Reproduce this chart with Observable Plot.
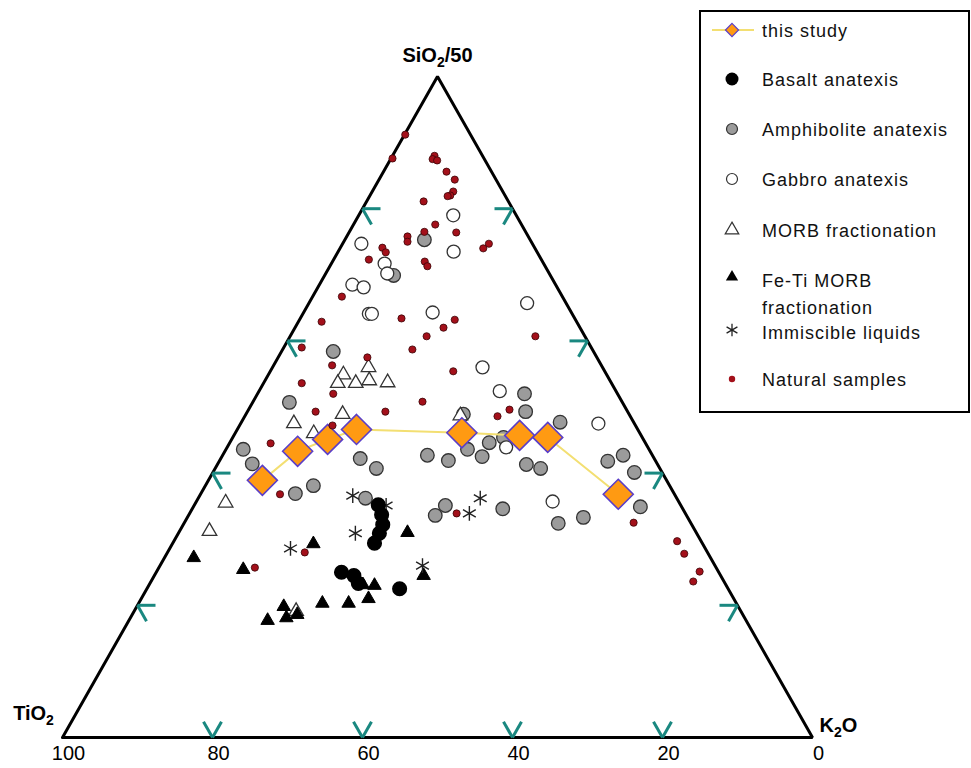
<!DOCTYPE html>
<html><head><meta charset="utf-8">
<script src="https://cdn.jsdelivr.net/npm/d3@7"></script>
<script src="https://cdn.jsdelivr.net/npm/@observablehq/plot@0.6"></script>
<style>
body{margin:0;background:#fff;}
#chart{position:relative;width:971px;height:768px;}
svg text{font-family:"Liberation Sans",Arial,Helvetica,sans-serif;}
</style></head><body><div id="chart"></div>
<script>
// Compositions as [TiO2, SiO2/50, K2O], normalised to 100
const thisStudy = [[53.9,38.9,7.2],[47.0,43.3,9.7],[42.1,45.1,12.8],[37.5,46.6,15.9],[23.7,46.1,30.2],[16.2,45.7,38.1],[12.6,45.4,42.0],[7.5,36.8,55.7]];
const basaltAnatexis = [[40.3,35.2,24.5],[40.6,33.7,25.7],[41.2,32.2,26.6],[42.3,30.9,26.8],[43.7,29.4,26.9],[50.3,25.0,24.7],[48.9,24.5,26.6],[48.9,23.3,27.8],[43.8,22.5,33.7]];
const amphiboliteAnatexis = [[14.1,75.3,10.6],[20.9,69.9,9.2],[34.7,58.4,6.9],[44.4,50.7,4.9],[54.1,43.6,2.3],[54.0,41.4,4.6],[50.5,36.9,12.6],[47.5,38.1,14.4],[39.2,42.2,18.6],[37.8,40.7,21.5],[41.5,36.2,22.3],[30.0,42.7,27.3],[27.6,41.9,30.5],[22.1,48.9,29.0],[24.2,43.6,32.2],[22.8,42.5,34.7],[20.8,44.6,34.6],[18.5,45.4,36.1],[33.5,33.6,32.9],[31.4,35.1,33.5],[24.0,34.6,41.4],[12.4,52.0,35.6],[13.6,49.3,37.1],[9.8,47.7,42.5],[17.5,41.3,41.2],[15.9,40.7,43.4],[6.4,41.8,51.8],[3.9,42.7,53.4],[3.7,40.1,56.2],[5.5,34.9,59.6],[17.7,32.4,49.9],[13.9,33.3,52.8]];
const gabbroAnatexis = [[22.8,74.7,2.5],[8.4,79.0,12.6],[11.1,73.5,15.4],[21.2,71.7,7.1],[21.6,70.2,8.2],[27.1,68.5,4.4],[25.8,68.1,6.1],[27.1,64.1,8.8],[26.7,64.1,9.2],[18.5,64.3,17.2],[5.2,65.7,29.1],[16.0,56.0,28.0],[15.5,52.4,32.1],[4.8,47.5,47.7],[18.9,43.9,37.2],[16.8,35.7,47.5]];
const morbFractionation = [[35.1,54.9,10.0],[31.2,56.0,12.8],[36.5,53.6,9.9],[34.1,53.6,12.3],[32.1,54.0,13.9],[29.8,53.7,16.5],[38.2,48.9,12.9],[45.4,47.5,7.1],[43.5,46.0,10.5],[22.6,48.7,28.7],[60.5,35.5,4.0],[64.8,31.2,4.0],[59.3,19.1,21.6]];
const feTiMorbFractionation = [[38.5,31.0,30.5],[51.9,29.3,18.8],[68.9,27.2,3.9],[63.2,25.4,11.4],[48.4,23.1,28.5],[46.9,23.0,30.1],[39.6,24.5,35.9],[60.6,19.8,19.6],[63.8,17.7,18.5],[61.1,18.1,20.8],[59.4,18.6,22.0],[55.2,20.3,24.5],[51.7,20.3,28.0],[48.7,21.0,30.3]];
const immiscibleLiquids = [[43.0,36.6,20.4],[39.3,35.1,25.6],[45.5,30.9,23.6],[55.3,28.6,16.1],[39.0,26.0,35.0],[26.2,36.2,37.6],[28.8,33.9,37.3]];
const naturalSamples = [[8.7,91.2,0.1],[12.2,87.6,0.2],[6.4,88.0,5.6],[6.9,87.5,5.6],[6.4,87.3,6.3],[6.0,85.6,8.4],[5.5,84.4,10.1],[6.6,82.6,10.8],[7.3,82.0,10.7],[7.7,81.9,10.4],[11.3,81.1,7.6],[11.5,77.6,10.9],[13.5,76.5,10.0],[9.3,76.4,14.3],[16.1,75.8,8.1],[16.5,75.0,8.5],[20.3,74.1,5.6],[20.2,73.4,6.4],[23.0,72.3,4.7],[5.8,74.7,19.5],[6.9,74.0,19.1],[15.7,72.0,12.3],[15.7,71.3,13.0],[29.4,66.7,3.9],[34.0,62.9,3.1],[23.1,63.4,13.5],[18.2,62.0,19.8],[16.1,63.2,20.7],[21.1,60.7,18.2],[24.0,58.7,17.3],[38.6,59.0,2.4],[30.6,57.5,11.9],[35.9,56.3,7.8],[20.2,55.4,24.4],[41.3,53.6,5.1],[37.9,52.0,10.1],[26.6,50.8,22.6],[41.6,49.3,9.1],[32.3,49.3,18.4],[50.0,44.5,5.5],[40.4,47.2,12.4],[17.7,48.6,33.7],[15.6,49.6,34.8],[6.6,60.7,32.7],[52.6,36.8,10.6],[53.7,28.0,18.3],[61.5,25.7,12.8],[30.5,33.9,35.6],[7.6,32.5,59.9],[3.2,29.7,67.1],[3.2,27.8,69.0],[2.5,25.1,72.4],[4.1,23.6,72.3]];

const vertexNames = ["TiO2", "SiO2/50", "K2O"];
const vertexComps = [[100,0,0],[0,100,0],[0,0,100]];
const edgeTicks = [20, 40, 60, 80];
const bottomTickLabels = [100, 80, 60, 40, 20, 0];
const legendLabels = ["this study","Basalt anatexis","Amphibolite anatexis","Gabbro anatexis","MORB fractionation","Fe-Ti MORB|fractionation","Immiscible liquids","Natural samples"];

// ternary projection: x = K2O + SiO2/2, y = SiO2
const px = d => d[2] + d[1] / 2;
const py = d => d[1];

const tl = 2.4; // tick arm length (composition units)
const tickSegs = [];
for (const v of edgeTicks) {
  const b = [100 - v, 0, v];
  tickSegs.push({a: b, b: [100 - v - tl, tl, v]}, {a: b, b: [100 - v, tl, v - tl]});
  const l = [100 - v, v, 0];
  tickSegs.push({a: l, b: [100 - v - tl, v, tl]}, {a: l, b: [100 - v, v - tl, tl]});
  const r = [0, v, 100 - v];
  tickSegs.push({a: r, b: [tl, v, 100 - v - tl]}, {a: r, b: [tl, v - tl, 100 - v]});
}
const vertices = vertexComps.map((c, i) => ({c, name: vertexNames[i]}));
const outline = [...vertexComps, vertexComps[0]];

const teal = "#1a8880";
const orange = "#FF9A12";
const purple = "#5a3ec8";
const yellow = "#F3DF72";
const red = "#A3101A";

const svg = Plot.plot({
  width: 971, height: 768,
  marginLeft: 62, marginRight: 159, marginTop: 76, marginBottom: 31,
  x: {domain: [0, 100], axis: null},
  y: {domain: [0, 100], axis: null},
  style: {fontFamily: "'Liberation Sans', Arial, sans-serif", background: "white"},
  marks: [
    Plot.line(outline, {x: px, y: py, stroke: "black", strokeWidth: 3, strokeLinejoin: "miter"}),
    Plot.link(tickSegs, {x1: d => px(d.a), y1: d => py(d.a), x2: d => px(d.b), y2: d => py(d.b), stroke: teal, strokeWidth: 3}),
    Plot.text(bottomTickLabels, {x: v => 100 - v, y: 0, text: v => String(v), lineAnchor: "top", dy: 8, dx: 6, fontSize: 20, fill: "black"}),
    Plot.text(vertices.slice(0,1), {x: d => px(d.c), y: d => py(d.c), text: "name", dx: -29, dy: -24, fontSize: 20, fontWeight: "bold", className: "vlabel"}),
    Plot.text(vertices.slice(1,2), {x: d => px(d.c), y: d => py(d.c), text: "name", dy: -21, fontSize: 20, fontWeight: "bold", className: "vlabel"}),
    Plot.text(vertices.slice(2,3), {x: d => px(d.c), y: d => py(d.c), text: "name", dx: 26, dy: -12, fontSize: 20, fontWeight: "bold", className: "vlabel"}),
    Plot.dot(amphiboliteAnatexis, {x: px, y: py, r: 6.8, fill: "#9b9b9b", stroke: "#333", strokeWidth: 1.3}),
    Plot.dot(gabbroAnatexis, {x: px, y: py, r: 6.5, fill: "white", stroke: "#333", strokeWidth: 1.3}),
    Plot.dot(morbFractionation, {x: px, y: py, r: 5.4, symbol: "triangle", fill: "white", stroke: "#333", strokeWidth: 1.3}),
    Plot.dot(feTiMorbFractionation, {x: px, y: py, r: 5, symbol: "triangle", fill: "black", stroke: "black", strokeWidth: 1}),
    Plot.dot(immiscibleLiquids, {x: px, y: py, r: 7, symbol: "asterisk", stroke: "#222", strokeWidth: 1.4}),
    Plot.dot(basaltAnatexis, {x: px, y: py, r: 6.8, fill: "black", stroke: "black"}),
    Plot.line(thisStudy, {x: px, y: py, stroke: yellow, strokeWidth: 2}),
    Plot.dot(thisStudy, {x: px, y: py, r: 13.5, symbol: "diamond2", fill: orange, stroke: purple, strokeWidth: 1.6}),
    Plot.dot(naturalSamples, {x: px, y: py, r: 3.6, fill: red, stroke: "#3a0508", strokeWidth: 0.8})
  ]
});

// subscript digits in the vertex labels
d3.select(svg).selectAll(".vlabel text").each(function() {
  const t = d3.select(this);
  const s = t.text();
  t.text(null);
  const m = s.match(/^([A-Za-z]+)(2)(.*)$/);
  t.append("tspan").text(m[1]);
  t.append("tspan").attr("dy", 5).attr("font-size", 14).text(m[2]);
  t.append("tspan").attr("dy", -5).text(m[3]);
});

// legend
const g = d3.select(svg).append("g").attr("class", "legend").attr("text-anchor", "start");
g.append("rect").attr("x", 700).attr("y", 11).attr("width", 269).attr("height", 401)
  .attr("fill", "white").attr("stroke", "black").attr("stroke-width", 2);
const sx = 732, tx = 762;
const rows = [30, 79, 129, 179, 230, 280, 332, 379];
const sym = (type, size) => d3.symbol(type, size)();
g.append("line").attr("x1", 712).attr("x2", 754).attr("y1", rows[0]).attr("y2", rows[0]).attr("stroke", yellow).attr("stroke-width", 2);
g.append("path").attr("d", sym(d3.symbolDiamond2, 110)).attr("transform", `translate(${sx},${rows[0]})`).attr("fill", orange).attr("stroke", purple).attr("stroke-width", 1.2);
g.append("circle").attr("cx", sx).attr("cy", rows[1]).attr("r", 6.5).attr("fill", "black");
g.append("circle").attr("cx", sx).attr("cy", rows[2]).attr("r", 5.5).attr("fill", "#9b9b9b").attr("stroke", "#333").attr("stroke-width", 1.2);
g.append("circle").attr("cx", sx).attr("cy", rows[3]).attr("r", 5.5).attr("fill", "white").attr("stroke", "#333").attr("stroke-width", 1.2);
g.append("path").attr("d", sym(d3.symbolTriangle, 80)).attr("transform", `translate(${sx},${rows[4]})`).attr("fill", "white").attr("stroke", "#333").attr("stroke-width", 1.2);
g.append("path").attr("d", sym(d3.symbolTriangle, 65)).attr("transform", `translate(${sx},${rows[5] - 3})`).attr("fill", "black");
g.append("path").attr("d", sym(d3.symbolAsterisk, 110)).attr("transform", `translate(${sx},${rows[6] - 2})`).attr("fill", "none").attr("stroke", "#222").attr("stroke-width", 1.3);
g.append("circle").attr("cx", sx).attr("cy", rows[7]).attr("r", 3.2).attr("fill", red);
legendLabels.forEach((lab, i) => {
  lab.split("|").forEach((p, j) => {
    g.append("text").attr("x", tx).attr("y", rows[i] + 6.5 + j * 27).attr("text-anchor", "start")
      .attr("font-size", 18).attr("letter-spacing", "1px").attr("fill", "#111").text(p);
  });
});

document.getElementById("chart").appendChild(svg);
</script></body></html>
